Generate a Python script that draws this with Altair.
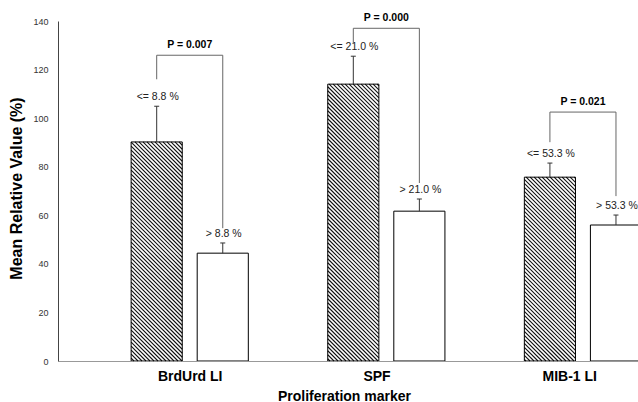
import math
import altair as alt
import numpy as np
import pandas as pd

# ---------------- data ----------------
categories = ["BrdUrd LI", "SPF", "MIB-1 LI"]
low_mean = [90.2, 114.0, 75.7]
low_err = [14.7, 11.5, 5.8]
high_mean = [44.4, 61.7, 56.0]
high_err = [4.2, 5.0, 4.1]
low_labels = ["<= 8.8 %", "<= 21.0 %", "<= 53.3 %"]
high_labels = ["> 8.8 %", "> 21.0 %", "> 53.3 %"]
p_labels = ["P = 0.007", "P = 0.000", "P = 0.021"]
bracket_top = [125.9, 137.0, 102.5]
bracket_left_end = [116.0, 130.9, 90.1]
bracket_right_end = [54.7, 73.3, 67.9]

# ---------------- layout ----------------
W, H = 580, 340
X_DOM = [0.33, 3.28]
Y_DOM = [0, 140]
OFF = 0.168   # bar centre offset from group centre (x units)
HALF = 0.13   # half bar width (x units)
HATCH_P = 4.0 # hatch period in px
LABEL_SHIFT = [0.0, -0.05, -0.07]  # category label placement relative to group centre
FONT = "Liberation Sans"

groups = list(range(1, len(categories) + 1))

rows = []
for i, g in enumerate(groups):
    rows.append(dict(g=g, kind="low", c=g - OFF, x0=g - OFF - HALF, x1=g - OFF + HALF,
                     val=low_mean[i], top=low_mean[i] + low_err[i], label=low_labels[i], zero=0))
    rows.append(dict(g=g, kind="high", c=g + OFF, x0=g + OFF - HALF, x1=g + OFF + HALF,
                     val=high_mean[i], top=high_mean[i] + high_err[i], label=high_labels[i], zero=0))
bars = pd.DataFrame(rows)

# hatch segments for the "low" bars (derived from bar data through the scale ratios)
ppx = W / (X_DOM[1] - X_DOM[0])
ppy = H / (Y_DOM[1] - Y_DOM[0])
hrows = []
for _, r in bars[bars["kind"] == "low"].iterrows():
    xl = (r["x0"] - X_DOM[0]) * ppx
    xr = (r["x1"] - X_DOM[0]) * ppx
    yt = H - r["val"] * ppy
    yb = H
    k0 = math.ceil((yt - xr) / HATCH_P)
    k1 = math.floor((yb - xl) / HATCH_P)
    for k in range(k0, k1 + 1):
        cc = k * HATCH_P
        xs = max(xl, yt - cc)
        xe = min(xr, yb - cc)
        if xe - xs < 0.3:
            continue
        hrows.append(dict(x=X_DOM[0] + xs / ppx, x2=X_DOM[0] + xe / ppx,
                          y=(H - (xs + cc)) / ppy, y2=(H - (xe + cc)) / ppy))
hatch = pd.DataFrame(hrows)

# bracket segments
brows = []
for i, g in enumerate(groups):
    lx, rx = g - OFF, g + OFF
    brows.append(dict(x=lx, x2=rx, y=bracket_top[i], y2=bracket_top[i]))
    brows.append(dict(x=lx, x2=lx, y=bracket_top[i], y2=bracket_left_end[i]))
    brows.append(dict(x=rx, x2=rx, y=bracket_top[i], y2=bracket_right_end[i]))
brackets = pd.DataFrame(brows)
plabs = pd.DataFrame(dict(g=groups, top=bracket_top, label=p_labels))

xscale = alt.Scale(domain=X_DOM, nice=False, zero=False)
yscale = alt.Scale(domain=Y_DOM, nice=False)

tick_vals = [g + s for g, s in zip(groups, LABEL_SHIFT)]
label_expr = "[" + ",".join("'" + c + "'" for c in categories) + "][round(datum.value) - 1]"

x_axis = alt.Axis(values=tick_vals, labelExpr=label_expr, ticks=False, grid=False,
                  domainColor="#999999", labelFontSize=14, labelFontWeight="bold",
                  labelColor="#000000", labelPadding=8, labelFont=FONT,
                  title="Proliferation marker", titleFontSize=14, titleFontWeight="bold",
                  titleColor="#000000", titleFont=FONT, titleX=286, titleY=39,
                  titleBaseline="alphabetic", titleAlign="center")
y_axis = alt.Axis(values=list(range(0, 141, 20)), ticks=False, grid=False,
                  domainColor="#444444", labelFontSize=9, labelColor="#333333",
                  labelPadding=10, labelFont=FONT,
                  title="Mean Relative Value (%)", titleFontSize=16, titleFontWeight="bold",
                  titleColor="#000000", titleFont=FONT, titleAngle=-90, titleX=-37,
                  titleY=167, titleBaseline="alphabetic", titleAlign="center")


def X(field):
    return alt.X(field, scale=xscale, axis=x_axis)


def Y(field):
    return alt.Y(field, scale=yscale, axis=y_axis)


base = alt.Chart(bars)

bar_fill = base.mark_rect(clip=True, fill="white").encode(
    x=X("x0:Q"), x2="x1:Q", y=Y("val:Q"), y2="zero:Q",
)

hatch_layer = alt.Chart(hatch).mark_rule(color="#111111", strokeWidth=1.1).encode(
    x=X("x:Q"), x2="x2:Q", y=Y("y:Q"), y2="y2:Q",
)

bar_edge = base.mark_rect(clip=True, fill="white", fillOpacity=0, stroke="#000000",
                          strokeWidth=1).encode(
    x=X("x0:Q"), x2="x1:Q", y=Y("val:Q"), y2="zero:Q",
)

err_line = base.mark_rule(color="#333333", strokeWidth=1, clip=True).encode(
    x=X("c:Q"), y=Y("val:Q"), y2="top:Q",
)
err_cap = base.mark_rule(color="#333333", strokeWidth=1, xOffset=-2.5, x2Offset=2.5,
                         clip=True).encode(
    x=X("c:Q"), x2="c:Q", y=Y("top:Q"),
)
bar_text = base.mark_text(font=FONT, fontSize=10.5, color="#222222", dy=-9,
                          baseline="middle", align="center", dx=1).encode(
    x=X("c:Q"), y=Y("top:Q"), text="label:N",
)

bracket_layer = alt.Chart(brackets).mark_rule(color="#666666", strokeWidth=1).encode(
    x=X("x:Q"), x2="x2:Q", y=Y("y:Q"), y2="y2:Q",
)
p_text = alt.Chart(plabs).mark_text(font=FONT, fontSize=10.5, fontWeight="bold",
                                    color="#000000", dy=-10, baseline="middle",
                                    align="center").encode(
    x=X("g:Q"), y=Y("top:Q"), text="label:N",
)

chart = alt.layer(
    bar_fill, hatch_layer, bar_edge, err_line, err_cap, bar_text, bracket_layer, p_text
).properties(
    width=W, height=H,
    autosize=alt.AutoSizeParams(type="none"),
    padding={"left": 58, "top": 21, "right": 0, "bottom": 41},
    background="white",
).configure(font=FONT, view=alt.ViewConfig(stroke=None))

chart.save("out.html", embed_options={"renderer": "svg", "actions": False})
